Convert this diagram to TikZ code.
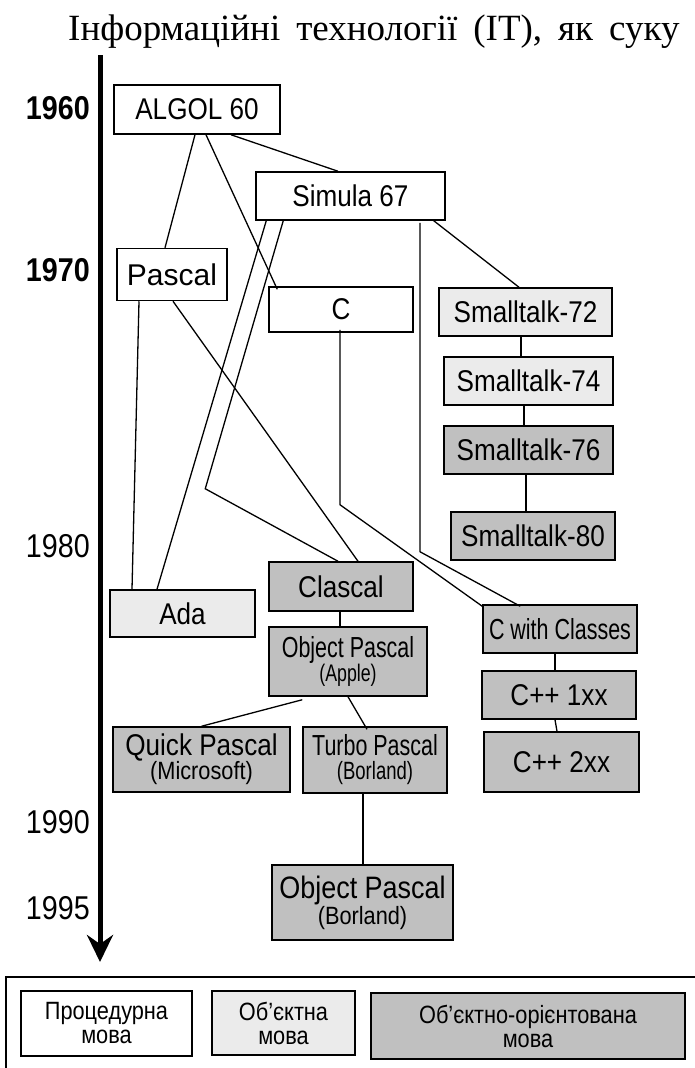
\documentclass[tikz,border=0pt]{standalone}
\usepackage{fontspec}
\setmainfont{Liberation Serif}
\newfontfamily\cond[FakeStretch=0.87]{Liberation Sans}
\newfontfamily\tight[FakeStretch=0.74]{Liberation Sans}
\usetikzlibrary{arrows.meta}
\definecolor{lightfill}{HTML}{EBEBEB}
\definecolor{darkfill}{HTML}{C0C0C0}
\begin{document}
\begin{tikzpicture}[x=1pt,y=-1pt,
  lang/.style={draw, line width=1.5pt, inner sep=0pt, align=center,
    font=\cond\fontsize{30}{30}\selectfont},
  proc/.style={lang, fill=white},
  objl/.style={lang, fill=lightfill},
  oop/.style={lang, fill=darkfill},
  narrowtext/.style={font=\tight\fontsize{29}{24}\selectfont},
  legendtext/.style={font=\cond\fontsize{25}{24}\selectfont},
  link/.style={line width=1.3pt},
  year/.style={anchor=east, inner sep=0pt, font=\cond\fontsize{33}{33}\selectfont},
]
\useasboundingbox (0,0) rectangle (695,1068);
\clip (0,0) rectangle (695,1068);

% running text line above the chart
\node[anchor=base west, inner sep=0pt, font=\fontsize{37}{37}\selectfont]
  (heading) at (68,40) {\spaceskip=16pt Інформаційні технології (ІТ), як суку};

% time axis
\coordinate (axtop) at (100,55);
\coordinate (axend) at (100,962);
\draw[line width=5pt, -{Stealth[length=27pt,width=26pt,inset=9pt]}] (axtop) -- (axend);

\node[year, font=\cond\bfseries\fontsize{33}{33}\selectfont] (y1960) at (90,108) {1960};
\node[year, font=\cond\bfseries\fontsize{33}{33}\selectfont] (y1970) at (90,270) {1970};
\node[year] (y1980) at (90,546) {1980};
\node[year] (y1990) at (90,822) {1990};
\node[year] (y1995) at (90,908) {1995};

% languages
\node[proc, minimum width=166, minimum height=49] (algol) at (197,109.5) {ALGOL 60};
\node[proc, minimum width=189, minimum height=48] (simula) at (350.5,196) {Simula 67};
\node[proc, font=\fontspec{Liberation Sans}\fontsize{30}{30}\selectfont,
  minimum width=110, minimum height=52] (pascal) at (172,274.5) {Pascal};
\node[proc, minimum width=144, minimum height=45] (c) at (341,309.5) {C};
\node[objl, minimum width=173, minimum height=48] (st72) at (525.5,312) {Smalltalk-72};
\node[objl, minimum width=169, minimum height=48] (st74) at (528.5,381) {Smalltalk-74};
\node[oop, minimum width=169, minimum height=48] (st76) at (528.5,450) {Smalltalk-76};
\node[oop, minimum width=164, minimum height=48] (st80) at (533,536) {Smalltalk-80};
\node[oop, minimum width=144, minimum height=49] (clascal) at (341,586.5) {Clascal};
\node[objl, minimum width=145, minimum height=47] (ada) at (182.5,613.5) {Ada};
\node[oop, narrowtext, minimum width=154, minimum height=48] (cwc) at (560,629) {C with Classes};
\node[oop, narrowtext, minimum width=158, minimum height=69] (opa) at (348,661.5)
  {Object Pascal\\{\fontsize{24}{24}\selectfont(Apple)}};
\node[oop, minimum width=154, minimum height=48] (cpp1) at (559,695) {C++ 1xx};
\node[oop, minimum width=155, minimum height=60] (cpp2) at (561.5,762) {C++ 2xx};
\node[oop, font=\cond\fontsize{30}{24}\selectfont, minimum width=177, minimum height=65] (quick) at (201.5,759.5)
  {Quick Pascal\\{\fontsize{25}{25}\selectfont(Microsoft)}};
\node[oop, narrowtext, minimum width=144, minimum height=66] (turbo) at (375,760)
  {Turbo Pascal\\{\fontsize{25}{25}\selectfont(Borland)}};
\node[oop, font=\cond\fontsize{31}{26}\selectfont, minimum width=181, minimum height=75] (opb) at (362.5,902.5)
  {Object Pascal\\{\fontsize{25}{25}\selectfont(Borland)}};

% lines of descent
\draw[link] ([xshift=-2]algol.south) -- ([xshift=-7]pascal.north);
\draw[link] ([xshift=9]algol.south) -- ([xshift=9,yshift=-3]c.north west);
\draw[link] ([xshift=34]algol.south) -- ([xshift=-12.5]simula.north);
\draw[link] ([xshift=-12]simula.south east) -- ([xshift=-6.5]st72.north);
\draw[link] ([xshift=69.5,yshift=-2]simula.south) -- ++(0,329) -- ([xshift=38,yshift=-2]cwc.north west);
\draw[link] ([xshift=-1,yshift=3]c.south) -- ++(0,175) -- ([yshift=-2]cwc.north west);
\draw[link] ([xshift=11]simula.south west) -- ([xshift=-25.5]ada.north);
\draw[link] ([xshift=28]simula.south west) -- ++(-78,268) -- ([xshift=-3]clascal.north);
\draw[link] ([xshift=1]pascal.south) -- ([xshift=17]clascal.north);
\draw[link] ([xshift=-33]pascal.south) -- ([xshift=-50.5]ada.north);
\draw[link] ([xshift=-4.5]st72.south) -- ([xshift=-7.5]st74.north);
\draw[link] ([xshift=-4.5]st74.south) -- ([xshift=-4.5]st76.north);
\draw[link] ([xshift=-2.5]st76.south) -- ([xshift=-7]st80.north);
\draw[link] ([xshift=-1]clascal.south) -- ([xshift=-8]opa.north);
\draw[link] ([xshift=34,yshift=-3]opa.south west) -- (quick.north);
\draw[link] (opa.south) -- ([xshift=-8,yshift=-3]turbo.north);
\draw[link] ([xshift=-5]cwc.south) -- ([xshift=-4]cpp1.north);
\draw[link] ([xshift=-4]cpp1.south) -- ([xshift=-4.5]cpp2.north);
\draw[link] ([xshift=-12]turbo.south) -- ([xshift=0.5]opb.north);

% legend
\draw[line width=1.5pt] (6,977) rectangle (720,1090);
\node[proc, legendtext, minimum width=171, minimum height=65] (kproc) at (106.5,1023.5) {Процедурна\\мова};
\node[objl, legendtext, minimum width=143, minimum height=64] (kobj) at (283.5,1023) {Об’єктна\\мова};
\node[oop, legendtext, minimum width=314, minimum height=66] (koop) at (528,1026) {Об’єктно-орієнтована\\мова};
\end{tikzpicture}
\end{document}
